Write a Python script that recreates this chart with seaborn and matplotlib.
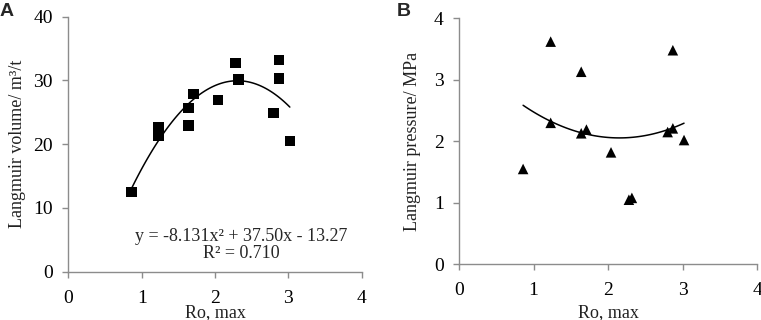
import numpy as np
import matplotlib
matplotlib.use('Agg')
import matplotlib.pyplot as plt
import pandas as pd
import seaborn as sns

# Data
ro_max = [0.86, 1.23, 1.23, 1.64, 1.64, 1.71, 2.04, 2.28, 2.32, 2.80, 2.87, 2.87, 3.02]
volume = [12.5, 22.7, 21.4, 25.7, 22.9, 27.9, 26.9, 32.7, 30.1, 24.9, 33.2, 30.3, 20.5]
pressure = [1.55, 3.62, 2.30, 3.13, 2.13, 2.19, 1.82, 1.05, 1.08, 2.15, 3.48, 2.21, 2.02]

eq_line = 'y = -8.131x² + 37.50x - 13.27'
r2_line = 'R² = 0.710'

df = pd.DataFrame({'ro': ro_max, 'vol': volume, 'pres': pressure})

sns.set_style('ticks')
plt.rcParams['font.family'] = ['Liberation Serif', 'DejaVu Serif']
grey = '#8c8c8c'

fig = plt.figure(figsize=(7.61, 3.2), dpi=100)
axA = fig.add_axes([0.0898, 0.151, 0.3855, 0.797])
axB = fig.add_axes([0.6032, 0.174, 0.3916, 0.769])


def style_axis(ax, ymax, ystep):
    ax.set_xlim(0, 4)
    ax.set_ylim(0, ymax)
    ax.set_xticks(np.arange(0, 5, 1))
    ax.set_yticks(np.arange(0, ymax + ystep / 2, ystep))
    sns.despine(ax=ax)
    for s in ['left', 'bottom']:
        ax.spines[s].set_color(grey)
        ax.spines[s].set_linewidth(1.0)
    ax.tick_params(colors=grey, labelcolor='black', labelsize=14,
                   length=4, width=1.0, direction='out')
    ax.tick_params(axis='x', pad=9)
    ax.tick_params(axis='y', pad=7)
    ax.set_xlabel('Ro, max', fontsize=13, color='#222222', va='center')


# Panel A
sns.regplot(data=df, x='ro', y='vol', order=2, ci=None, truncate=True,
            ax=axA, marker='s',
            scatter_kws={'s': 58, 'color': 'black', 'edgecolor': 'none', 'alpha': 1},
            line_kws={'color': 'black', 'lw': 1.1})
style_axis(axA, 40, 10)
axA.set_ylabel('Langmuir volume/ m³/t', fontsize=13, color='#222222', labelpad=5)
axA.xaxis.set_label_coords(0.5, -0.162)
axA.text(0.589, 0.139, eq_line, transform=axA.transAxes, ha='center',
         va='center', fontsize=13)
axA.text(0.589, 0.073, r2_line, transform=axA.transAxes, ha='center',
         va='center', fontsize=13)

# Panel B
sns.regplot(data=df, x='ro', y='pres', order=2, ci=None, truncate=True,
            ax=axB, marker='^',
            scatter_kws={'s': 58, 'color': 'black', 'edgecolor': 'none', 'alpha': 1},
            line_kws={'color': 'black', 'lw': 1.1})
style_axis(axB, 4, 1)
axB.set_ylabel('Langmuir pressure/ MPa', fontsize=13, color='#222222', labelpad=9)
axB.xaxis.set_label_coords(0.5, -0.197)

# Panel letters
fig.text(0.0, 0.964, 'A', fontsize=14, fontweight='bold',
         family='Liberation Sans', va='center', ha='left')
fig.text(0.521, 0.964, 'B', fontsize=14, fontweight='bold',
         family='Liberation Sans', va='center', ha='left')

fig.savefig('out.png', dpi=100)
